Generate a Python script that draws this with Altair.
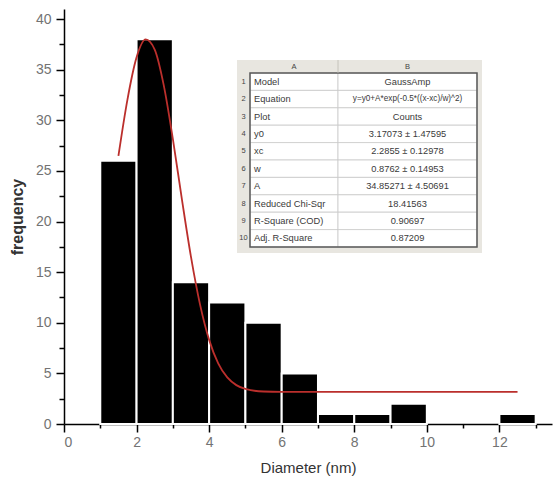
import altair as alt
import pandas as pd

# ---- data ----
bin_start = [1, 2, 3, 4, 5, 6, 7, 8, 9, 12]
bin_end = [2, 3, 4, 5, 6, 7, 8, 9, 10, 13]
counts = [26, 38, 14, 12, 10, 5, 1, 1, 2, 1]

fit_x = [1.5, 1.75, 2.0, 2.25, 2.5, 2.75, 3.0, 3.25, 3.5, 3.75, 4.0, 4.25,
         4.5, 4.75, 5.0, 5.5, 6.0, 12.5]
fit_y = [26.49, 32.08, 36.22, 37.99, 36.99, 33.45, 28.17, 22.19, 16.51, 11.79,
         8.31, 5.99, 4.60, 3.84, 3.46, 3.21, 3.18, 3.17]

x_major = [0, 2, 4, 6, 8, 10, 12]
x_minor = [1, 3, 5, 7, 9, 11, 13]
y_major = [0, 5, 10, 15, 20, 25, 30, 35, 40]
y_minor = [2.5, 7.5, 12.5, 17.5, 22.5, 27.5, 32.5, 37.5]

table_headers = ["A", "B"]
table_params = ["Model", "Equation", "Plot", "y0", "xc", "w", "A",
                "Reduced Chi-Sqr", "R-Square (COD)", "Adj. R-Square"]
table_values = ["GaussAmp", "y=y0+A*exp(-0.5*((x-xc)/w)^2)", "Counts",
                "3.17073 ± 1.47595", "2.2855 ± 0.12978", "0.8762 ± 0.14953",
                "34.85271 ± 4.50691", "18.41563", "0.90697", "0.87209"]
value_sizes = [9.3, 8.2, 9.3, 9.3, 9.3, 9.3, 9.3, 9.3, 9.3, 9.3]

FONT = "Liberation Sans"

bars_df = pd.DataFrame({"start": bin_start, "end": bin_end, "count": counts})
fit_df = pd.DataFrame({"x": fit_x, "y": fit_y})

n = len(table_params)
rows = list(range(1, n + 1))
tab_df = pd.DataFrame({
    "row": rows,
    "row2": [r + 1 for r in rows],
    "mid": [r + 0.5 for r in rows],
    "num": [str(r) for r in rows],
    "param": table_params,
    "value": table_values,
    "vsize": value_sizes,
})
cells_df = pd.DataFrame({
    "c0": [1] * n + [2] * n,
    "c1": [2] * n + [3] * n,
    "row": rows + rows,
    "row2": [r + 1 for r in rows] * 2,
})
head_df = pd.DataFrame({"h": table_headers, "cx": [1.5, 2.5], "cy": [0.5, 0.5]})
frame_df = pd.DataFrame({"x0": [0], "x1": [3], "y0": [0], "y1": [n + 1]})
box_df = pd.DataFrame({"x0": [1], "x1": [3], "y0": [1], "y1": [n + 1]})

# ---- scales ----
xs = alt.Scale(domain=[0, 13.45], nice=False, zero=False)
ys = alt.Scale(domain=[0, 41], nice=False, zero=False)
tx = alt.Scale(domain=[0, 1, 2, 3], range=[173, 186, 274, 413], nice=False, zero=False)
ty = alt.Scale(domain=[0, 1, n + 1], range=[51, 64, 238], nice=False, zero=False)

x_axis = alt.Axis(values=x_major, orient="bottom", grid=False, tickSize=8,
                  tickWidth=1.5, tickColor="black", domainColor="black",
                  domainWidth=1.5, labelFont=FONT, labelFontSize=14,
                  labelColor="#737373", labelPadding=3, titleFont=FONT,
                  titleFontSize=15, titleFontWeight="normal", titleColor="#333333",
                  titlePadding=11)
y_axis = alt.Axis(values=y_major, orient="left", grid=False, tickSize=8,
                  tickWidth=1.5, tickColor="black", domainColor="black",
                  domainWidth=1.5, labelFont=FONT, labelFontSize=14,
                  labelColor="#737373", labelPadding=5, titleFont=FONT,
                  titleFontSize=16, titleFontWeight="bold", titleColor="#333333",
                  titlePadding=10)
x_minor_axis = alt.Axis(values=x_minor, orient="bottom", grid=False, labels=False,
                        tickSize=4, tickWidth=1.5, tickColor="black", domain=False,
                        title=None)
y_minor_axis = alt.Axis(values=y_minor, orient="left", grid=False, labels=False,
                        tickSize=5, tickWidth=1.5, tickColor="black", domain=False,
                        title=None)

bars = alt.Chart(bars_df).mark_rect(color="black", stroke="white",
                                    strokeWidth=2).encode(
    x=alt.X("start:Q", scale=xs, axis=x_axis, title="Diameter (nm)"),
    x2="end:Q",
    y=alt.Y("count:Q", scale=ys, axis=y_axis, title="frequency"),
    y2=alt.datum(0),
)

curve = alt.Chart(fit_df).mark_line(color="#bb2f2c", strokeWidth=1.8,
                                    interpolate="monotone").encode(
    x=alt.X("x:Q", scale=xs, axis=x_minor_axis),
    y=alt.Y("y:Q", scale=ys, axis=y_minor_axis),
)

# ---- inset table ----
frame = alt.Chart(frame_df).mark_rect(fill="#e8e6e0", x2Offset=5, y2Offset=6).encode(
    x=alt.X("x0:Q", scale=tx, axis=None), x2="x1:Q",
    y=alt.Y("y0:Q", scale=ty, axis=None), y2="y1:Q",
)
cells = alt.Chart(cells_df).mark_rect(fill="white", stroke="#c9c9c9",
                                      strokeWidth=0.8).encode(
    x=alt.X("c0:Q", scale=tx, axis=None), x2="c1:Q",
    y=alt.Y("row:Q", scale=ty, axis=None), y2="row2:Q",
)
box = alt.Chart(box_df).mark_rect(fillOpacity=0, stroke="#5a5a5a",
                                  strokeWidth=1.5).encode(
    x=alt.X("x0:Q", scale=tx, axis=None), x2="x1:Q",
    y=alt.Y("y0:Q", scale=ty, axis=None), y2="y1:Q",
)
head_div = alt.Chart(pd.DataFrame({"d": [2], "t": [0], "b": [1]})).mark_rule(
    color="#bdbab2", strokeWidth=0.8).encode(
    x=alt.X("d:Q", scale=tx, axis=None),
    y=alt.Y("t:Q", scale=ty, axis=None), y2="b:Q",
)
head_txt = alt.Chart(head_df).mark_text(font=FONT, fontSize=7.5, color="#444444",
                                        baseline="middle", align="center").encode(
    x=alt.X("cx:Q", scale=tx, axis=None),
    y=alt.Y("cy:Q", scale=ty, axis=None),
    text="h:N",
)
num_txt = alt.Chart(tab_df).mark_text(font=FONT, fontSize=7.5, color="#444444",
                                      baseline="middle", align="center").encode(
    x=alt.X("pos:Q", scale=tx, axis=None),
    y=alt.Y("mid:Q", scale=ty, axis=None),
    text="num:N",
).transform_calculate(pos="0.5")
param_txt = alt.Chart(tab_df).mark_text(font=FONT, fontSize=9.3, color="#3a3a3a",
                                        baseline="middle", align="left", dx=4).encode(
    x=alt.X("pos:Q", scale=tx, axis=None),
    y=alt.Y("mid:Q", scale=ty, axis=None),
    text="param:N",
).transform_calculate(pos="1")
value_txt = alt.Chart(tab_df).mark_text(font=FONT, color="#3a3a3a",
                                        baseline="middle", align="center").encode(
    x=alt.X("pos:Q", scale=tx, axis=None),
    y=alt.Y("mid:Q", scale=ty, axis=None),
    text="value:N",
    size=alt.Size("vsize:Q", scale=None, legend=None),
).transform_calculate(pos="2.5")

chart = alt.layer(
    bars, curve, frame, cells, box, head_div, head_txt, num_txt, param_txt, value_txt
).resolve_scale(x="independent", y="independent").resolve_axis(
    x="independent", y="independent"
).properties(
    width=488, height=415,
    padding={"left": 64, "top": 9, "right": 3, "bottom": 62},
    autosize=alt.AutoSizeParams(type="none"),
    background="white",
).configure_view(stroke=None)

chart.save("out.html", embed_options={"renderer": "svg", "actions": False})
